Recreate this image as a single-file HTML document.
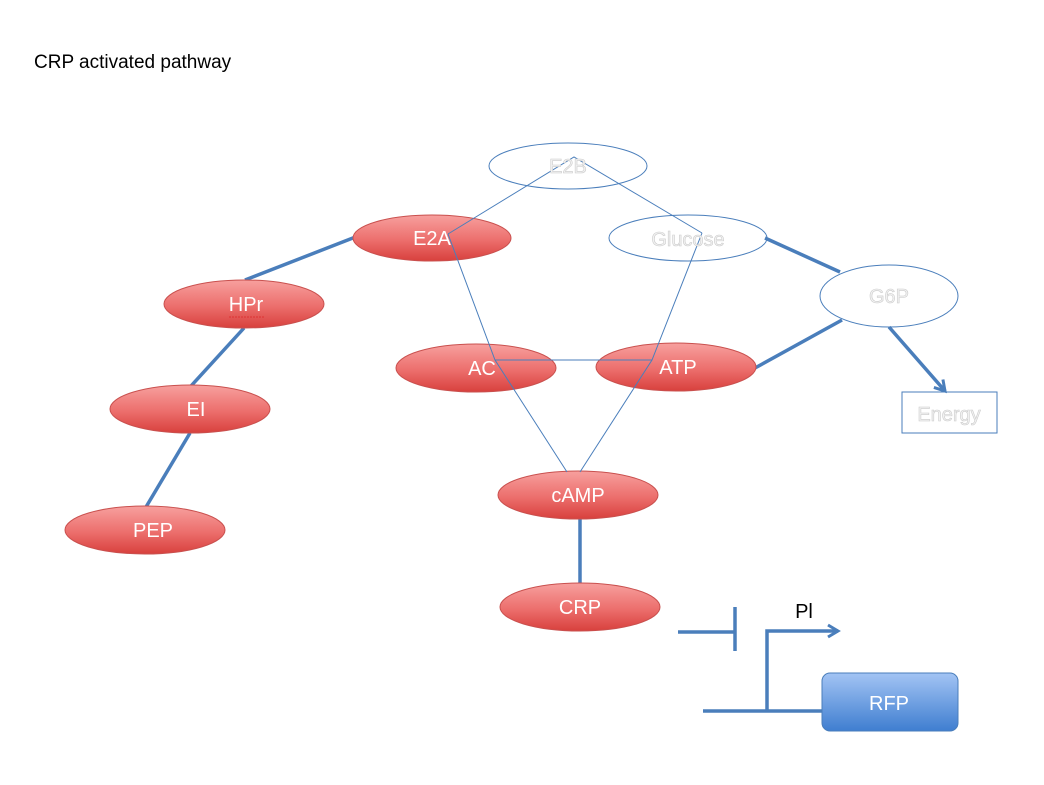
<!DOCTYPE html>
<html><head><meta charset="utf-8"><style>
html,body{margin:0;padding:0;background:#fff;}
svg{display:block;}
text{font-family:"Liberation Sans",sans-serif;}
</style></head><body>
<svg width="1044" height="785" viewBox="0 0 1044 785" xmlns="http://www.w3.org/2000/svg">
<defs>
<linearGradient id="red" x1="0" y1="0" x2="0" y2="1">
<stop offset="0" stop-color="#f7a09e"/><stop offset="0.55" stop-color="#ec6e6c"/><stop offset="1" stop-color="#d8403d"/>
</linearGradient>
<linearGradient id="blue" x1="0" y1="0" x2="0" y2="1">
<stop offset="0" stop-color="#a3c4f4"/><stop offset="1" stop-color="#3f7ed0"/>
</linearGradient>
<marker id="ar" markerWidth="16" markerHeight="16" refX="12" refY="8" orient="auto" markerUnits="userSpaceOnUse">
<path d="M2,2 L12,8 L2,14" fill="none" stroke="#4a7ebb" stroke-width="3"/>
</marker>
</defs>
<text x="34" y="68" font-size="19" fill="#000">CRP activated pathway</text>

<g stroke="#4a7ebb" stroke-width="3.5" fill="none">
<line x1="358" y1="236" x2="245" y2="280"/>
<line x1="244" y1="328" x2="191" y2="386"/>
<line x1="190" y1="433" x2="146" y2="507"/>
<line x1="765" y1="238" x2="840" y2="272"/>
<line x1="842" y1="320" x2="755" y2="368"/>
<line x1="889" y1="327" x2="945" y2="391" marker-end="url(#ar)"/>
<line x1="580" y1="519" x2="580" y2="583"/>
<line x1="678" y1="632" x2="735" y2="632"/>
<line x1="735" y1="607" x2="735" y2="651"/>
<line x1="703" y1="711" x2="824" y2="711"/>
<polyline points="767,711 767,631 838,631" marker-end="url(#ar)"/>
</g>

<g fill="url(#red)" stroke="#c9504e" stroke-width="1">
<ellipse cx="432" cy="238" rx="79" ry="23"/>
<ellipse cx="244" cy="304" rx="80" ry="24"/>
<ellipse cx="190" cy="409" rx="80" ry="24"/>
<ellipse cx="145" cy="530" rx="80" ry="24"/>
<ellipse cx="476" cy="368" rx="80" ry="24"/>
<ellipse cx="676" cy="367" rx="80" ry="24"/>
<ellipse cx="578" cy="495" rx="80" ry="24"/>
<ellipse cx="580" cy="607" rx="80" ry="24"/>
</g>

<g fill="none" stroke="#4a7ebb" stroke-width="1">
<ellipse cx="568" cy="166" rx="79" ry="23"/>
<ellipse cx="688" cy="238" rx="79" ry="23"/>
<ellipse cx="889" cy="296" rx="69" ry="31"/>
<rect x="902" y="392" width="95" height="41"/>
</g>

<g stroke="#4a7ebb" stroke-width="1" fill="none">
<polyline points="448,234 574,157 702,233"/>
<polyline points="448,234 495,360 567,472"/>
<polyline points="702,233 652,360 580,472"/>
<line x1="495" y1="360" x2="652" y2="360"/>
</g>

<rect x="822" y="673" width="136" height="58" rx="8" fill="url(#blue)" stroke="#4a7ebb" stroke-width="1"/>

<g fill="#fff" font-size="20" text-anchor="middle">
<text x="432" y="245">E2A</text>
<text x="246" y="311">HPr</text>
<text x="196" y="416">EI</text>
<text x="153" y="537">PEP</text>
<text x="482" y="375">AC</text>
<text x="678" y="374">ATP</text>
<text x="578" y="502">cAMP</text>
<text x="580" y="614">CRP</text>
<text x="889" y="710">RFP</text>
</g>
<line x1="229" y1="317" x2="264" y2="317" stroke="#d33" stroke-width="1" stroke-dasharray="2,1"/>
<g fill="#f2f2f2" stroke="#ccc" stroke-width="0.6" font-size="20" text-anchor="middle">
<text x="568" y="173">E2B</text>
<text x="688" y="246">Glucose</text>
<text x="889" y="303">G6P</text>
<text x="949" y="421">Energy</text>
</g>
<text x="804" y="618" font-size="20" fill="#000" text-anchor="middle">Pl</text>
</svg>
</body></html>
